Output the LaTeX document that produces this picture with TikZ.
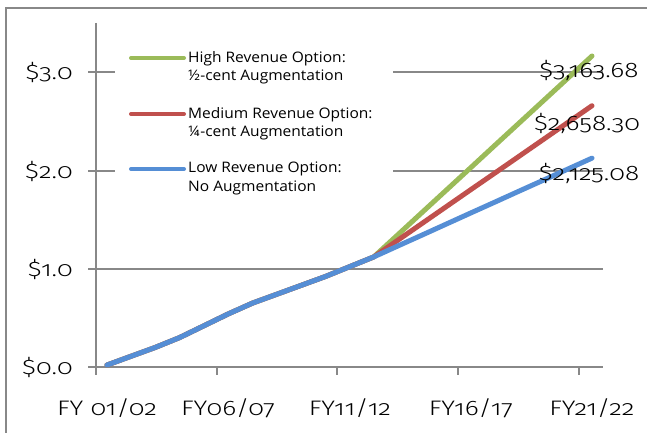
\documentclass[tikz,border=0pt]{standalone}
\usepackage{fontspec}
\setmainfont[FakeStretch=1.07]{Open Sans}
\newfontfamily\numfont[Numbers=OldStyle, FakeStretch=1.25]{Fira Sans Light}
\definecolor{gridgray}{HTML}{888888}
\definecolor{hiGreen}{HTML}{9BBB59}
\definecolor{medRed}{HTML}{C0504D}
\definecolor{lowBlue}{HTML}{558ED5}
\tikzset{
  gridline/.style={draw=gridgray, line width=1.4pt},
  series/.style={line width=5pt, line cap=round, line join=round},
  keyline/.style={line width=4pt, line cap=round},
  axislabel/.style={font=\numfont\fontsize{21}{23}\selectfont, inner sep=0pt},
  valuelabel/.style={font=\numfont\fontsize{21}{23}\selectfont, inner sep=0pt},
  keytext/.style={font=\fontsize{14.5}{18.5}\selectfont, align=left, anchor=west, inner sep=0pt},
}
\begin{document}
\begin{tikzpicture}[x=1pt,y=-1pt]
\useasboundingbox (0,0) rectangle (647,433);
% outer frame (top and left edges)
\draw[gridgray, line width=1.5pt] (6,440) -- (6,8) -- (655,8);

% horizontal gridlines and y ticks
\foreach \yy in {72,171,269} {
  \draw[gridline] (88,\yy) -- (603,\yy);
}
% axes
\draw[gridline] (96,23) -- (96,375);
\draw[gridline] (88,367) -- (603,367);
\foreach \xx in {217,337,458,579} {
  \draw[gridline] (\xx,367) -- (\xx,375);
}

% y-axis labels
\node[axislabel, anchor=east] (y3) at (73,72) {\$3.0};
\node[axislabel, anchor=east] (y2) at (73,171) {\$2.0};
\node[axislabel, anchor=east] (y1) at (73,269) {\$1.0};
\node[axislabel, anchor=east] (y0) at (73,367) {\$0.0};

% x-axis labels
\node[axislabel] (x1) at (107,408) {FY 01/02};
\node[axislabel] (x2) at (228,408) {FY06/07};
\node[axislabel] (x3) at (350,408) {FY11/12};
\node[axislabel] (x4) at (471,408) {FY16/17};
\node[axislabel] (x5) at (592,408) {FY21/22};

% legend panel
\fill[white] (115,30) rectangle (393,205);
\coordinate (gA) at (131,58);  \coordinate (gB) at (184,58);
\coordinate (rA) at (131,114); \coordinate (rB) at (184,114);
\coordinate (bA) at (131,169); \coordinate (bB) at (184,169);
\draw[keyline, hiGreen] (gA) -- (gB);
\draw[keyline, medRed] (rA) -- (rB);
\draw[keyline, lowBlue] (bA) -- (bB);
\node[keytext] (kg) at (188,67.5) {High Revenue Option:\\½-cent Augmentation};
\node[keytext] (kr) at (188,123.5) {Medium Revenue Option:\\¼-cent Augmentation};
\node[keytext] (kb) at (188,178.5) {Low Revenue Option:\\No Augmentation};

% revenue series, one point per fiscal year
\begin{scope}[shift={(107,367)}, x=24.25pt, y=98.3pt]
\draw[series, hiGreen] plot coordinates {(0,0.02)(1,0.11)(2,0.20)(3,0.30)(4,0.42)(5,0.54)(6,0.65)(7,0.74)(8,0.83)(9,0.92)(10,1.02)(11,1.12)
  (12,1.347)(13,1.574)(14,1.801)(15,2.028)(16,2.256)(17,2.483)(18,2.710)(19,2.937)(20,3.164)};
\draw[series, medRed] plot coordinates {(0,0.02)(1,0.11)(2,0.20)(3,0.30)(4,0.42)(5,0.54)(6,0.65)(7,0.74)(8,0.83)(9,0.92)(10,1.02)(11,1.12)
  (12,1.291)(13,1.462)(14,1.633)(15,1.804)(16,1.974)(17,2.145)(18,2.316)(19,2.487)(20,2.658)};
\draw[series, lowBlue] plot coordinates {(0,0.02)(1,0.11)(2,0.20)(3,0.30)(4,0.42)(5,0.54)(6,0.65)(7,0.74)(8,0.83)(9,0.92)(10,1.02)(11,1.12)
  (12,1.232)(13,1.343)(14,1.455)(15,1.567)(16,1.678)(17,1.790)(18,1.901)(19,2.013)(20,2.125)};
\end{scope}

% end values
\node[valuelabel] (vg) at (589,70) {\$3,163.68};
\node[valuelabel] (vr) at (587,123) {\$2,658.30};
\node[valuelabel] (vb) at (589,173) {\$2,125.08};
\end{tikzpicture}
\end{document}
